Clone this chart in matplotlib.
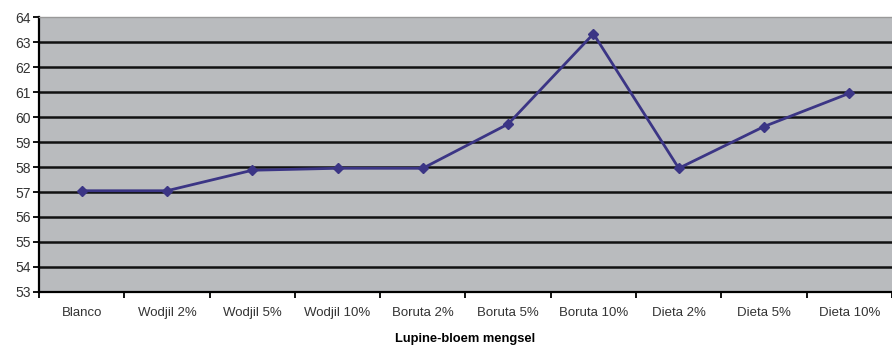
import numpy as np
import matplotlib
matplotlib.use("agg")
import matplotlib.pyplot as plt

categories = ["Blanco", "Wodjil 2%", "Wodjil 5%", "Wodjil 10%", "Boruta 2%",
              "Boruta 5%", "Boruta 10%", "Dieta 2%", "Dieta 5%", "Dieta 10%"]
values = [57.05, 57.05, 57.87, 57.95, 57.95, 59.72, 63.33, 57.95, 59.62, 60.95]
yticks = list(range(53, 65))

plt.rcParams['font.family'] = ['Liberation Sans', 'DejaVu Sans']

fig = plt.figure(figsize=(8.92, 3.48), dpi=100)
ax = fig.add_axes([0.0437, 0.161, 0.9563, 0.79])
ax.set_facecolor('#b9bbbe')

x = np.arange(len(categories))
for yv in yticks[1:-1]:
    ax.axhline(yv, color='#111111', lw=1.8, zorder=1)
ax.plot(x, values, color='#3b3585', lw=2, marker='D', markersize=5, zorder=3)

ax.set_xlim(-0.5, len(categories) - 0.5)
ax.set_ylim(53, 64)
ax.set_yticks(yticks)
ax.set_yticklabels([str(v) for v in yticks], fontsize=10, color='#333333')
ax.set_xticks(x)
ax.set_xticklabels(categories, fontsize=9.5, color='#333333')
ax.set_xticks(np.arange(len(categories) + 1) - 0.5, minor=True)
ax.tick_params(axis='x', which='major', length=0, pad=11)
ax.tick_params(axis='x', which='minor', length=4, width=1.3, color='black')
ax.tick_params(axis='y', length=4, width=1.3, color='black', pad=2)

for s in ['left', 'bottom']:
    ax.spines[s].set_color('black')
    ax.spines[s].set_linewidth(1.6)
ax.spines['top'].set_color('#999999')
ax.spines['top'].set_linewidth(1)
ax.spines['right'].set_visible(False)

ax.set_xlabel('Lupine-bloem mengsel', fontsize=9.3, fontweight='bold', labelpad=10)

fig.savefig('out.png', dpi=100)
plt.close()
